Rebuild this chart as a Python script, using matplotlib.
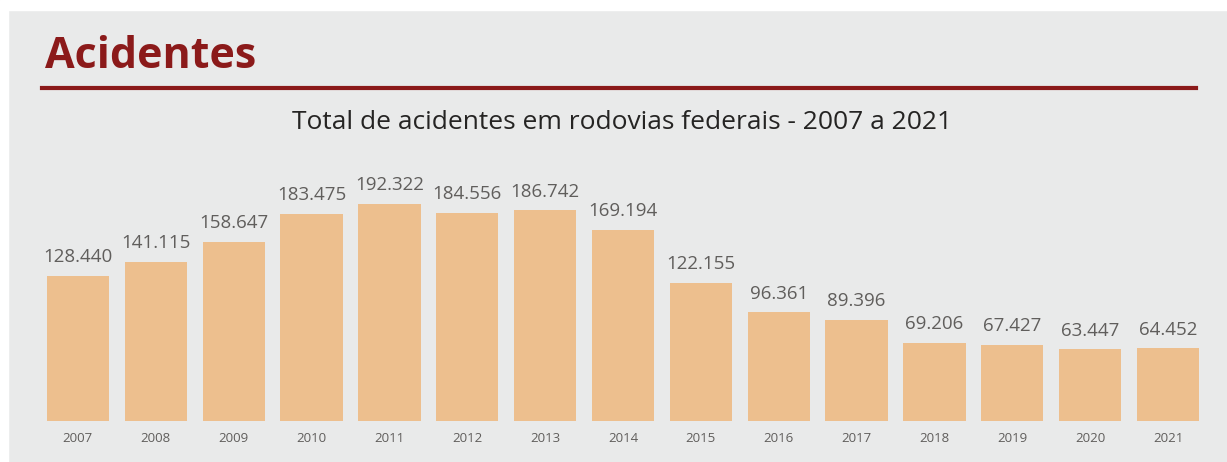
import matplotlib.pyplot as plt
from matplotlib.patches import Rectangle

# Data
anos = ['2007', '2008', '2009', '2010', '2011', '2012', '2013', '2014',
        '2015', '2016', '2017', '2018', '2019', '2020', '2021']
acidentes = [128440, 141115, 158647, 183475, 192322, 184556, 186742, 169194,
             122155, 96361, 89396, 69206, 67427, 63447, 64452]

W, H = 1227, 462
bg = '#e9eaea'
bar_color = '#edbf8e'
dark_red = '#8b1a1a'

fig = plt.figure(figsize=(W / 100, H / 100), dpi=100, facecolor=bg)

# white margins at top and left
fig.patches.append(Rectangle((0, 1 - 10 / H), 1, 10 / H,
                             transform=fig.transFigure, color='white'))
fig.patches.append(Rectangle((0, 0), 8 / W, 1,
                             transform=fig.transFigure, color='white'))

# header
fig.text(45 / W, 1 - 56 / H, 'Acidentes', fontsize=31, fontweight='bold',
         color=dark_red, family='Open Sans', va='center', ha='left')
fig.add_artist(plt.Line2D([42 / W, 1196 / W], [1 - 88 / H, 1 - 88 / H],
                          transform=fig.transFigure, color=dark_red, lw=3))
fig.text(622 / W, 1 - 123 / H,
         'Total de acidentes em rodovias federais - 2007 a 2021',
         fontsize=19, color='#252423', family='Open Sans',
         va='center', ha='center')

# bar chart
ymax = 200000
top_px = 421 - 217 * ymax / 192322
ax = fig.add_axes([39 / W, 41 / H, 1168 / W, (421 - top_px) / H])
ax.set_zorder(3)
ax.set_facecolor('none')
x = range(len(anos))
bars = ax.bar(x, acidentes, width=0.8, color=bar_color)
ax.set_xlim(-0.5, len(anos) - 0.5)
ax.set_ylim(0, ymax)

for xi, v in zip(x, acidentes):
    label = f'{v:,}'.replace(',', '.')
    ax.annotate(label, (xi, v), xytext=(0, 7), textcoords='offset points',
                ha='center', va='bottom', fontsize=13.5, color='#605e5c',
                family='Open Sans')

ax.set_xticks(list(x))
ax.set_xticklabels(anos, fontsize=9.5, color='#605e5c', family='Open Sans')
ax.tick_params(axis='x', length=0, pad=8)
ax.set_yticks([])
for s in ax.spines.values():
    s.set_visible(False)

fig.savefig('out.png', dpi=100, facecolor=bg)
